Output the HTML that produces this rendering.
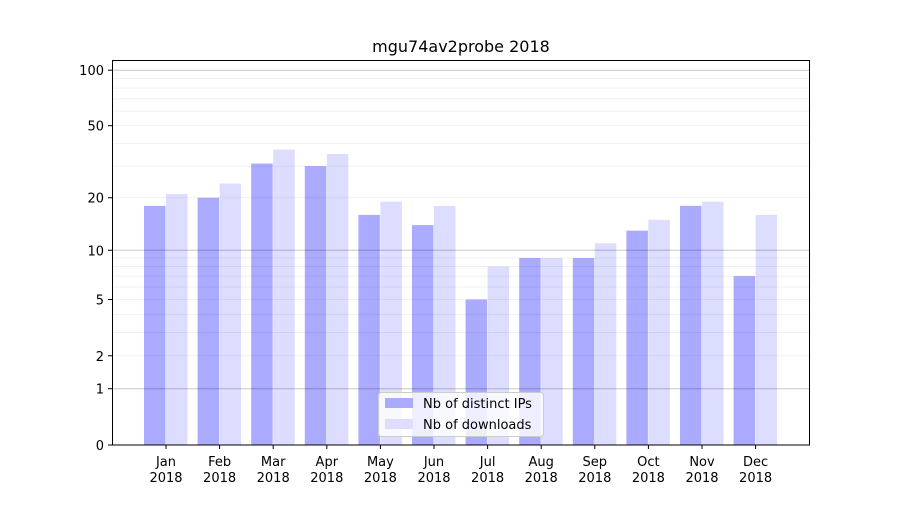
<!DOCTYPE html>
<html><head><meta charset="utf-8"><style>
body{margin:0;background:#fff;}
svg text{font-family:"DejaVu Sans","Liberation Sans",sans-serif;}
</style></head><body>
<svg id="chart" width="900" height="500" xmlns="http://www.w3.org/2000/svg">
<rect width="900" height="500" fill="#fff"/>
<text x="461" y="52" font-size="16" text-anchor="middle">mgu74av2probe 2018</text>
<g id="bars"></g>
<g id="grid"></g>
<g id="axes"></g>
<rect x="112.5" y="60.5" width="697" height="384.5" fill="none" stroke="#000" stroke-width="1"/>
<g>
<rect x="378.5" y="392.5" width="165" height="44" fill="#fff" fill-opacity="0.8" stroke="#ccc" rx="3"/>
<rect x="385" y="398" width="28" height="10" fill="#aaaaff"/>
<text x="423" y="408" font-size="13">Nb of distinct IPs</text>
<rect x="385" y="419" width="28" height="10" fill="#ddddff"/>
<text x="423" y="429" font-size="13">Nb of downloads</text>
</g>
</svg>
<script>
const months = ["Jan","Feb","Mar","Apr","May","Jun","Jul","Aug","Sep","Oct","Nov","Dec"];
const ips = [18,20,31,30,16,14,5,9,9,13,18,7];
const downloads = [21,24,37,35,19,18,8,9,11,15,19,16];
const yTicks = [0,1,2,5,10,20,50,100];
const NS = "http://www.w3.org/2000/svg";
function y(v){return 445 - 187*Math.log10(v+1);}
function xc(i){return 166 + i*53.6;}
function mk(tag, attrs, parent){const e=document.createElementNS(NS,tag);for(const k in attrs)e.setAttribute(k,attrs[k]);parent.appendChild(e);return e;}
const grid=document.getElementById('grid'), bars=document.getElementById('bars'), axes=document.getElementById('axes');
const minors=[2,3,4,5,6,7,8,9,20,30,40,50,60,70,80,90];
minors.forEach(v=>{const l=mk('line',{x1:112,x2:810,y1:y(v),y2:y(v),stroke:'#000','stroke-opacity':0.07,'stroke-width':0.8},grid);

});
[1,10,100].forEach(v=>{const l=mk('line',{x1:112,x2:810,y1:y(v),y2:y(v),stroke:'#000','stroke-opacity':0.22,'stroke-width':1},grid);

});
months.forEach((m,i)=>{
 const b1=mk('rect',{x:xc(i)-22,y:y(ips[i]),width:21.5,height:445-y(ips[i]),fill:'#aaaaff'},bars);
 
 
 const b2=mk('rect',{x:xc(i),y:y(downloads[i]),width:21.5,height:445-y(downloads[i]),fill:'#ddddff'},bars);
 
 
 mk('line',{x1:xc(i),x2:xc(i),y1:445,y2:449,stroke:'#000'},axes);
 const t=mk('text',{x:xc(i),y:466,'font-size':13,'text-anchor':'middle'},axes);
 
 
 t.textContent=m;
 const t2=mk('text',{x:xc(i),y:482,'font-size':13,'text-anchor':'middle'},axes);
 
 
 t2.textContent='2018';
});
yTicks.forEach(v=>{
 mk('line',{x1:108,x2:112,y1:y(v),y2:y(v),stroke:'#000'},axes);
 const t=mk('text',{x:104,y:y(v)+5,'font-size':13,'text-anchor':'end'},axes);
 
 
 t.textContent=v;
});
</script>
</body></html>
